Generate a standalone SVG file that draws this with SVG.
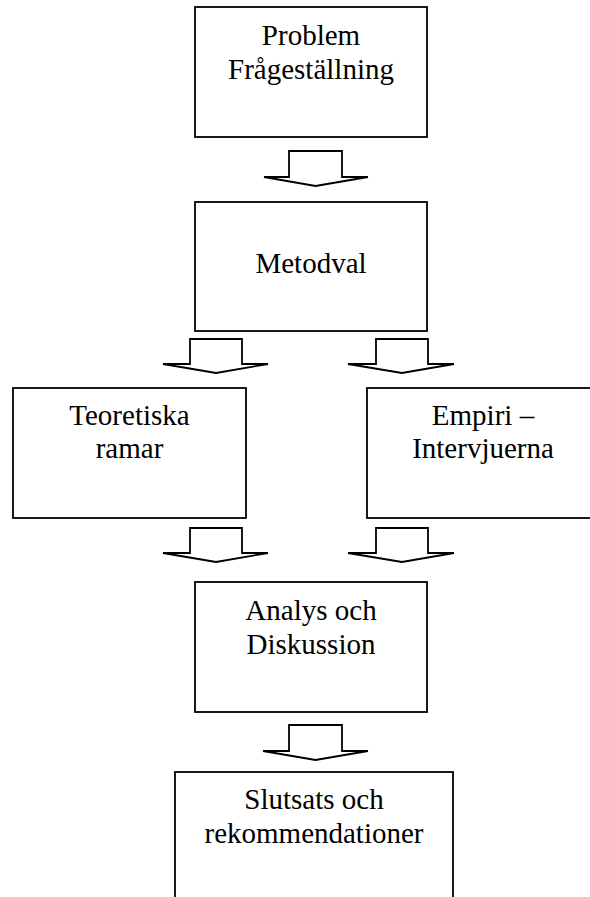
<svg xmlns="http://www.w3.org/2000/svg" width="590" height="897" viewBox="0 0 590 897">
<style>
.box{fill:#fff;stroke:#000;stroke-width:1.8}
.arr{fill:#fff;stroke:#000;stroke-width:1.8;stroke-linejoin:miter}
text{font-family:"Liberation Serif","Times New Roman",serif;font-size:29px;fill:#000;text-anchor:middle}
</style>
<rect width="590" height="897" fill="#fff"/>
<g id="n1"><rect class="box" x="195" y="7" width="232" height="130"/><text x="311" y="45">Problem</text><text x="311" y="79">Frågeställning</text></g>
<g id="n2"><rect class="box" x="195" y="202" width="232" height="129"/><text x="311" y="273">Metodval</text></g>
<g id="n3"><rect class="box" x="13" y="388" width="233" height="130"/><text x="129.5" y="425">Teoretiska</text><text x="129.5" y="458">ramar</text></g>
<g id="n4"><rect class="box" x="367" y="388" width="240" height="130"/><text x="483" y="425">Empiri –</text><text x="483" y="458">Intervjuerna</text></g>
<g id="n5"><rect class="box" x="195" y="582" width="232" height="130"/><text x="311" y="620">Analys och</text><text x="311" y="654">Diskussion</text></g>
<g id="n6"><rect class="box" x="175" y="772" width="278" height="140"/><text x="314" y="809">Slutsats och</text><text x="314" y="843">rekommendationer</text></g>
<g id="connectors">
<polygon class="arr" points="289,151 342,151 342,177 368,177 315.5,186 264,177 289,177"/>
<polygon class="arr" points="190,339 242,339 242,364 268,364 216,373 163,364 190,364"/>
<polygon class="arr" points="376,339 428,339 428,364 454,364 402,373 348,364 376,364"/>
<polygon class="arr" points="190,528 242,528 242,553 268,553 216,562 163,553 190,553"/>
<polygon class="arr" points="376,528 428,528 428,553 454,553 402,562 348,553 376,553"/>
<polygon class="arr" points="289,725 342,725 342,751 368,751 315.5,760 263,751 289,751"/>
</g>
</svg>
